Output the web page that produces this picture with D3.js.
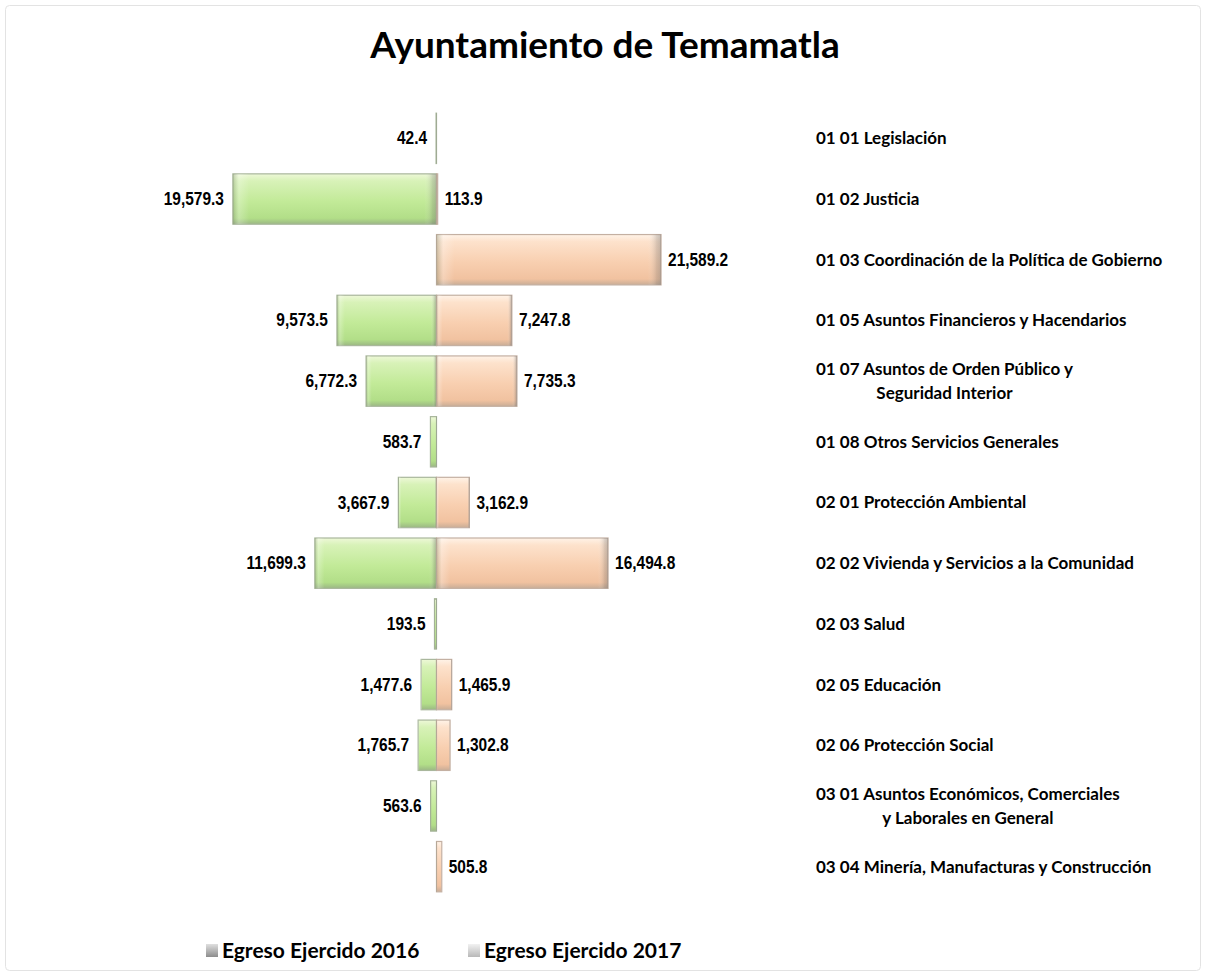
<!DOCTYPE html>
<html>
<head>
<meta charset="utf-8">
<script src="https://cdnjs.cloudflare.com/ajax/libs/d3/7.8.5/d3.min.js"></script>
<style>
  body { margin: 0; background: #fff; }
</style>
</head>
<body>
<svg id="chart" width="1206" height="976"></svg>
<script>
// data
var chartTitle = "Ayuntamiento de Temamatla"
var seriesNames = ["Egreso Ejercido 2016", "Egreso Ejercido 2017"]
var categories = [
    "01 01 Legislación",
    "01 02 Justicia",
    "01 03 Coordinación de la Política de Gobierno",
    "01 05 Asuntos Financieros y Hacendarios",
    "01 07 Asuntos de Orden Público y|Seguridad Interior",
    "01 08 Otros Servicios Generales",
    "02 01 Protección Ambiental",
    "02 02 Vivienda y Servicios a la Comunidad",
    "02 03 Salud",
    "02 05 Educación",
    "02 06 Protección Social",
    "03 01 Asuntos Económicos, Comerciales|y Laborales en General",
    "03 04 Minería, Manufacturas y Construcción"
]
var egreso2016 = [42.4, 19579.3, null, 9573.5, 6772.3, 583.7, 3667.9, 11699.3, 193.5, 1477.6, 1765.7, 563.6, null]
var egreso2017 = [null, 113.9, 21589.2, 7247.8, 7735.3, null, 3162.9, 16494.8, null, 1465.9, 1302.8, null, 505.8]

function fmt(v) { return d3.format(",.1f")(v) }

function addGradient(defs, id, vertical, stops)
{
    var g = defs.append("linearGradient").attr("id", id)
        .attr("x1", 0).attr("y1", 0)
        .attr("x2", vertical ? 0 : 1).attr("y2", vertical ? 1 : 0)
    stops.forEach(function (s) {
        g.append("stop").attr("offset", s[0]).attr("stop-color", s[1])
            .attr("stop-opacity", s.length > 2 ? s[2] : 1)
    })
}

function drawChart()
{
    var svg = d3.select("#chart")
    var defs = svg.append("defs")

    // bevel-ish gradients
    addGradient(defs, "gGreen", true, [
        ["0%", "#eef8d8"], ["14%", "#d8f2b8"], ["55%", "#c2ea98"],
        ["88%", "#b2de88"], ["100%", "#9bb784"]])
    addGradient(defs, "gPeach", true, [
        ["0%", "#fff3e8"], ["14%", "#fde2cc"], ["55%", "#f8cfb0"],
        ["88%", "#f1c2a0"], ["100%", "#c9ad97"]])
    // darker ends, like the bevel in the original
    addGradient(defs, "gEnds", false, [
        ["0%", "#6f7f60", 0.35], ["3%", "#ffffff", 0.25], ["8%", "#ffffff", 0],
        ["94%", "#ffffff", 0], ["98%", "#6f6f6f", 0.25], ["100%", "#6f6f6f", 0.4]])
    addGradient(defs, "gKey1", true, [["0%", "#e0e0e0"], ["100%", "#8c8c8c"]])
    addGradient(defs, "gKey2", true, [["0%", "#f2f2f2"], ["100%", "#b8b8b8"]])

    // outer frame
    svg.append("rect")
        .attr("x", 5.5).attr("y", 5.5)
        .attr("width", 1195).attr("height", 965)
        .attr("rx", 4)
        .style("fill", "#fff")
        .style("stroke", "#e3e3e3")

    svg.append("text")
        .attr("x", 605)
        .attr("y", 58)
        .attr("text-anchor", "middle")
        .style("font-family", "Lato, 'Open Sans', sans-serif")
        .style("font-weight", "bold")
        .style("font-size", "37px")
        .style("fill", "#000")
        .text(chartTitle)

    var xScale = d3.scaleLinear()
        .domain([-25000, 25000])
        .range([176.5, 696.5])

    var yScale = d3.scaleBand()
        .domain(categories)
        .range([108, 897])
        .paddingInner(0.17)
        .paddingOuter(0.085)

    var rows = categories.map(function (c, i) {
        return { cat: c, v16: egreso2016[i], v17: egreso2017[i] }
    })

    var bh = yScale.bandwidth()
    var x0 = xScale(0)

    var row = svg.selectAll(".row")
        .data(rows)
        .enter().append("g")
        .attr("class", "row")
        .attr("transform", (d) => "translate(0," + yScale(d.cat) + ")")

    // 2016 to the left
    var left = row.filter((d) => d.v16 != null)
    left.append("rect")
        .attr("x", (d) => xScale(-d.v16))
        .attr("y", 0)
        .attr("width", (d) => x0 - xScale(-d.v16))
        .attr("height", bh)
        .style("fill", "url(#gGreen)")
        .style("stroke", "#a9b79c")
        .style("stroke-width", 1.2)
    left.append("rect")
        .attr("x", (d) => xScale(-d.v16))
        .attr("y", 0)
        .attr("width", (d) => x0 - xScale(-d.v16))
        .attr("height", bh)
        .style("fill", "url(#gEnds)")

    // 2017 to the right
    var right = row.filter((d) => d.v17 != null)
    right.append("rect")
        .attr("x", x0)
        .attr("y", 0)
        .attr("width", (d) => xScale(d.v17) - x0)
        .attr("height", bh)
        .style("fill", "url(#gPeach)")
        .style("stroke", "#c4b0a2")
        .style("stroke-width", 1.2)
    right.append("rect")
        .attr("x", x0)
        .attr("y", 0)
        .attr("width", (d) => xScale(d.v17) - x0)
        .attr("height", bh)
        .style("fill", "url(#gEnds)")

    // narrow bold numbers, squeezed sideways like Arial Narrow
    var valFont = "'Liberation Sans', Arial, sans-serif"

    left.append("text")
        .attr("transform", (d) => "translate(" + (xScale(-d.v16) - 9) + "," + (bh / 2 + 6) + ") scale(0.86,1)")
        .attr("text-anchor", "end")
        .style("font-family", valFont)
        .style("font-weight", "bold")
        .style("font-size", "18px")
        .text((d) => fmt(d.v16))

    right.append("text")
        .attr("transform", (d) => "translate(" + (xScale(d.v17) + 7) + "," + (bh / 2 + 6) + ") scale(0.86,1)")
        .attr("text-anchor", "start")
        .style("font-family", valFont)
        .style("font-weight", "bold")
        .style("font-size", "18px")
        .text((d) => fmt(d.v17))

    // category labels on the right
    var catFont = "Lato, 'Open Sans', sans-serif"
    row.each(function (d) {
        var g = d3.select(this)
        var lines = d.cat.split("|")
        if (lines.length == 1) {
            g.append("text")
                .attr("x", 816)
                .attr("y", bh / 2 + 6)
                .style("font-family", catFont)
                .style("font-weight", "bold")
                .style("font-size", "17px")
                .text(lines[0])
        } else {
            var t1 = g.append("text")
                .attr("x", 816)
                .attr("y", bh / 2 - 6)
                .style("font-family", catFont)
                .style("font-weight", "bold")
                .style("font-size", "17px")
                .text(lines[0])
            var w = t1.node().getComputedTextLength()
            g.append("text")
                .attr("x", 816 + w / 2)
                .attr("y", bh / 2 + 18)
                .attr("text-anchor", "middle")
                .style("font-family", catFont)
                .style("font-weight", "bold")
                .style("font-size", "17px")
                .text(lines[1])
        }
    })

    // legend
    var legendX = [206, 468]
    var legend = svg.selectAll(".legend")
        .data(seriesNames)
        .enter().append("g")
        .attr("class", "legend")
        .attr("transform", (d, i) => "translate(" + legendX[i] + ",942)")

    legend.append("rect")
        .attr("x", 0).attr("y", 2)
        .attr("width", 12).attr("height", 13)
        .style("fill", (d, i) => i == 0 ? "url(#gKey1)" : "url(#gKey2)")

    legend.append("text")
        .attr("x", 16)
        .attr("y", 16)
        .style("font-family", catFont)
        .style("font-weight", "bold")
        .style("font-size", "21px")
        .text((d) => d)
}

drawChart()
</script>
</body>
</html>
